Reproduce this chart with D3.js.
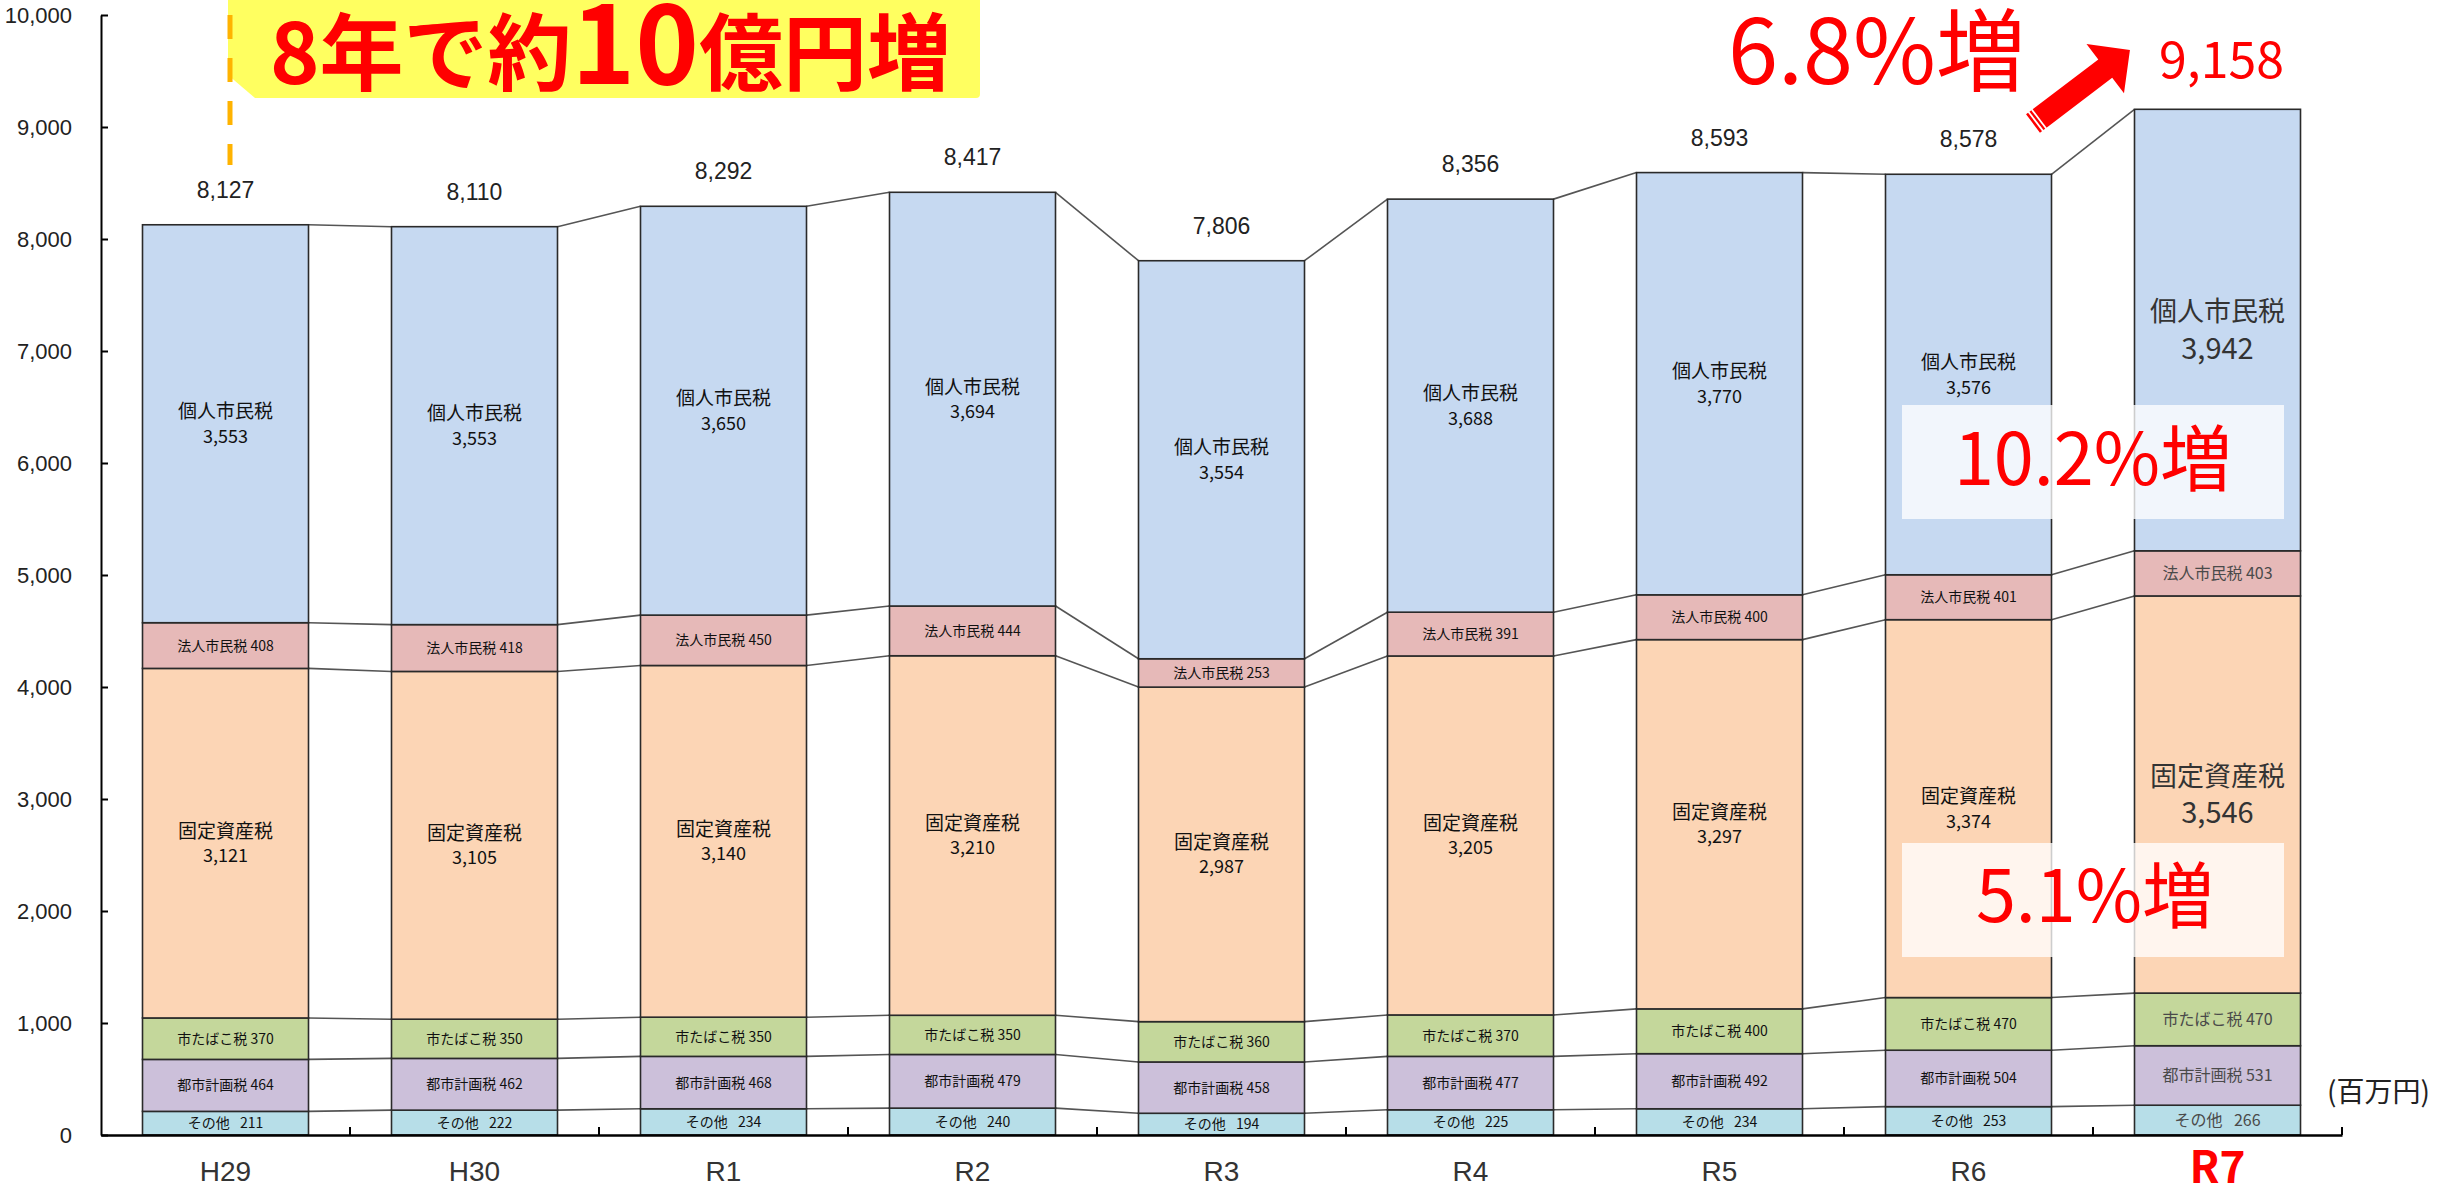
<!DOCTYPE html>
<html><head><meta charset="utf-8">
<script src="https://cdn.jsdelivr.net/npm/d3@7"></script>
<style>
html,body{margin:0;padding:0;background:#fff;overflow:hidden}
svg{display:block}
</style></head><body>
<svg id="chart" width="2446" height="1196"></svg>
<script>
// ---- data ----
const categories = ["H29","H30","R1","R2","R3","R4","R5","R6","R7"];
const sonota  = [211,222,234,240,194,225,234,253,266];          // その他
const toshi   = [464,462,468,479,458,477,492,504,531];          // 都市計画税
const tabako  = [370,350,350,350,360,370,400,470,470];          // 市たばこ税
const kotei   = [3121,3105,3140,3210,2987,3205,3297,3374,3546]; // 固定資産税
const houjin  = [408,418,450,444,253,391,400,401,403];          // 法人市民税
const kojin   = [3553,3553,3650,3694,3554,3688,3770,3576,3942]; // 個人市民税
const totals  = [8127,8110,8292,8417,7806,8356,8593,8578,9158];
const yTicks  = [0,1000,2000,3000,4000,5000,6000,7000,8000,9000,10000];
const seriesNames = ["その他","都市計画税","市たばこ税","固定資産税","法人市民税","個人市民税"];
const seriesValues = [sonota, toshi, tabako, kotei, houjin, kojin];
const seriesColors = ["#b7dee8","#ccc0da","#c4d79b","#fcd5b5","#e6b9b8","#c6d9f1"];
const seriesBig = [false,false,false,true,false,true];
const unitLabel = "(百万円)";

// ---- setup ----
const svg = d3.select("#chart");
const x = d3.scaleBand().domain(categories).range([101,2342]).paddingInner(1/3).paddingOuter(1/6);
const y = d3.scaleLinear().domain([0,10000]).range([1135,15]);
const bw = x.bandwidth(), step = x.step();
const fmt = d3.format(",");
const last = categories[categories.length-1];

const table = categories.map((c,i)=>{
  const r = {cat:c};
  seriesNames.forEach((s,k)=>{ r[s] = seriesValues[k][i]; });
  return r;
});
const stacked = d3.stack().keys(seriesNames)(table);

// ---- annotation: yellow callout (behind) ----
const ann = svg.append("g");
ann.append("path")
  .attr("d","M228,0 L980,0 L980,94 Q980,98 976,98 L255,98 L228,75 Z")
  .attr("fill","#ffff60");

// ---- connector lines ----
const conn = svg.append("g");
stacked.forEach(layer=>{
  for(let i=0;i<categories.length-1;i++){
    conn.append("line")
      .attr("x1", x(categories[i])+bw).attr("y1", y(layer[i][1]))
      .attr("x2", x(categories[i+1])).attr("y2", y(layer[i+1][1]))
      .attr("stroke","#555").attr("stroke-width",1.6);
  }
});

// ---- bars ----
const bars = svg.append("g");
stacked.forEach((layer,k)=>{
  bars.selectAll(null).data(layer).join("rect")
    .attr("x", d=>x(d.data.cat))
    .attr("y", d=>y(d[1]))
    .attr("width", bw)
    .attr("height", d=>y(d[0])-y(d[1]))
    .attr("fill", seriesColors[k])
    .attr("stroke","#2a2a2a").attr("stroke-width",1.6);
});

// ---- segment labels ----
const lab = svg.append("g").attr("font-family","'Noto Sans CJK JP','Noto Sans',sans-serif");
stacked.forEach((layer,k)=>{
  layer.forEach((d,i)=>{
    const cx = x(d.data.cat)+bw/2;
    const cy = (y(d[0])+y(d[1]))/2;
    const isLast = d.data.cat===last;
    const v = seriesValues[k][i];
    if(seriesBig[k]){
      const fs = isLast?27:19, gap = isLast?18.5:12.5;
      lab.append("text").attr("text-anchor","middle")
        .attr("fill", isLast?"#333":"#111").attr("font-size",fs)
        .attr("x",cx).attr("y",cy-gap+fs*0.36).text(seriesNames[k]);
      lab.append("text").attr("text-anchor","middle")
        .attr("fill", isLast?"#333":"#111").attr("font-size",isLast?29:18)
        .attr("x",cx).attr("y",cy+gap+(isLast?29:18)*0.36).text(fmt(v));
    } else {
      const sep = k===0 ? "\u2002 " : " ";
      lab.append("text").attr("x",cx).attr("y",cy+(isLast?16:14)*0.36)
        .attr("text-anchor","middle")
        .attr("font-size", isLast?16:14).attr("fill", isLast?"#4a4a4a":"#111")
        .style("white-space","pre")
        .text(seriesNames[k]+sep+v);
    }
  });
});

// ---- total labels ----
const tot = svg.append("g").attr("font-family","'Liberation Sans',Arial,sans-serif");
categories.forEach((c,i)=>{
  const isLast = c===last;
  tot.append("text")
    .attr("x", x(c)+bw/2 + (isLast?4:0))
    .attr("y", isLast ? y(totals[i])-31 : y(totals[i])-27)
    .attr("text-anchor","middle")
    .attr("font-family", isLast?"'Noto Sans CJK JP','Noto Sans',sans-serif":null)
    .attr("font-size", isLast?50:23)
    .attr("fill", isLast?"#ff0000":"#222")
    .text(fmt(totals[i]));
});

// ---- y axis ----
svg.append("g").attr("transform","translate(101,0)")
  .call(d3.axisLeft(y).tickValues(yTicks).tickFormat(fmt).tickSizeInner(-7).tickSizeOuter(0).tickPadding(29))
  .call(g=>g.select(".domain").attr("stroke","#000").attr("stroke-width",2))
  .call(g=>g.selectAll(".tick line").attr("stroke","#000").attr("stroke-width",2))
  .call(g=>g.selectAll("text").attr("font-family","'Liberation Sans',Arial,sans-serif").attr("font-size",22).attr("fill","#222"));

// ---- x axis ----
const xg = svg.append("g").attr("transform","translate(0,1135)")
  .call(d3.axisBottom(x).tickSize(0).tickPadding(26))
  .call(g=>g.select(".domain").attr("stroke","#000").attr("stroke-width",2.4))
  .call(g=>g.selectAll("text")
     .attr("font-family","'Liberation Sans',Arial,sans-serif")
     .attr("font-weight","normal")
     .attr("font-size",28).attr("fill","#333"));
xg.selectAll(".tick text").filter(d=>d===last)
  .attr("font-family","'Noto Sans CJK JP','Liberation Sans',sans-serif")
  .attr("font-weight","bold").attr("font-size",44).attr("fill","#ff0000").attr("dy","0.5em");
xg.selectAll(null).data(categories).join("line")
  .attr("x1", d=>x(d)+bw+(step-bw)/2).attr("x2", d=>x(d)+bw+(step-bw)/2)
  .attr("y1",0).attr("y2",-8).attr("stroke","#000").attr("stroke-width",2);

svg.append("text").attr("x",2327).attr("y",1102)
  .attr("font-family","'Noto Sans CJK JP',sans-serif").attr("font-size",28).attr("fill","#222")
  .text(unitLabel);

// ---- annotations (front) ----
const front = svg.append("g").attr("font-family","'Noto Sans CJK JP','Noto Sans',sans-serif");
front.append("line").attr("x1",230).attr("x2",230).attr("y1",15).attr("y2",165)
  .attr("stroke","#ffb300").attr("stroke-width",5).attr("stroke-dasharray","24 19");
const t1 = front.append("text").attr("x",270).attr("y",84).attr("fill","#ff0000").attr("font-weight","bold").attr("font-size",84);
t1.append("tspan").text("8年で約");
t1.append("tspan").attr("font-size",108).text("10");
t1.append("tspan").text("億円増");

front.append("text").attr("x",1728).attr("y",84).attr("fill","#ff0000").attr("font-size",90).text("6.8%増");

// arrow
const L = 121.7, hl = 31, hw = 31, sw = 11.5;
const ag = front.append("g").attr("transform","translate(2033,123.5) rotate(-37.2)");
ag.append("path").attr("d",`M0,${-sw} L${L-hl},${-sw} L${L-hl},${-hw} L${L},0 L${L-hl},${hw} L${L-hl},${sw} L0,${sw} Z`).attr("fill","#ff0000");
[3.5,7.5].forEach(p=>ag.append("line").attr("x1",p).attr("x2",p).attr("y1",-sw-1).attr("y2",sw+1).attr("stroke","#fff").attr("stroke-width",1.8));

// translucent boxes
[[1902,405,382,114,"10.2%増",2093,485],[1902,843,382,114,"5.1%増",2095,922]].forEach(b=>{
  front.append("rect").attr("x",b[0]).attr("y",b[1]).attr("width",b[2]).attr("height",b[3])
    .attr("fill","#fff").attr("fill-opacity",0.77);
  front.append("text").attr("x",b[5]).attr("y",b[6]).attr("text-anchor","middle")
    .attr("fill","#ff0000").attr("font-size",72).text(b[4]);
});
</script>
</body></html>
